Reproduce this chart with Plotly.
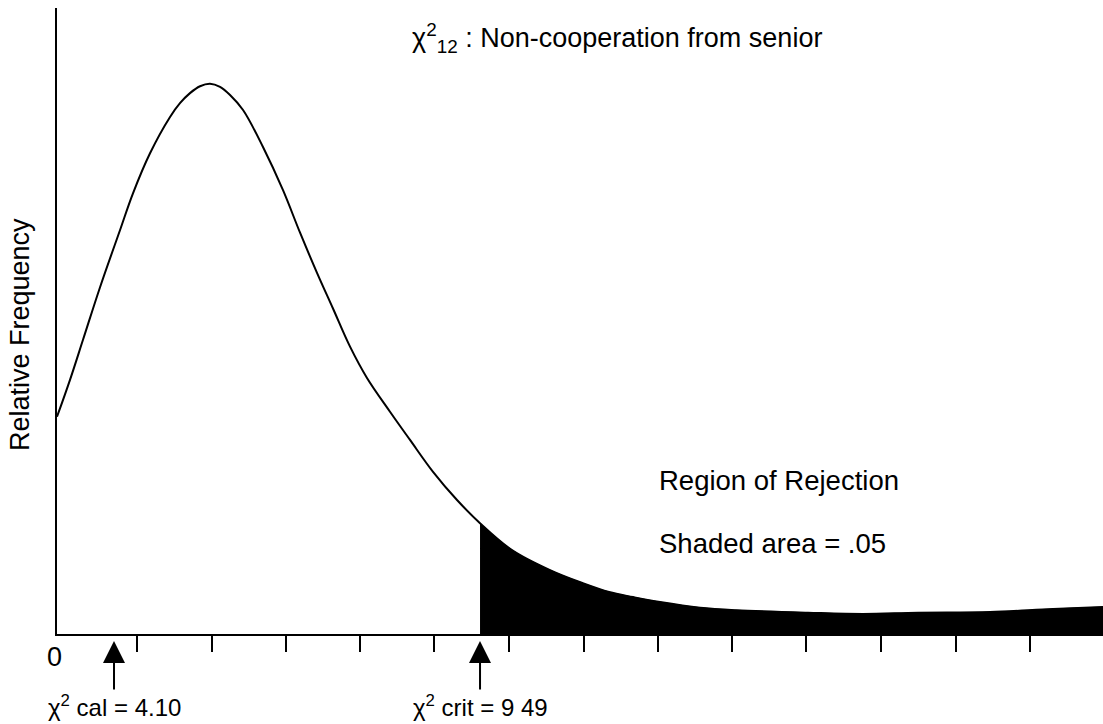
import plotly.graph_objects as go

# ---- data (schematic chi-square density) ----
curve_x = [0.0, 0.174, 0.348, 0.576, 0.843, 1.017, 1.245, 1.513, 1.646, 1.780,
           1.914, 2.048, 2.182, 2.316, 2.490, 2.757, 3.025, 3.253, 3.480, 3.694,
           3.922, 4.149, 4.457, 4.725, 5.033, 5.354, 5.662, 6.090, 6.599, 7.040,
           7.389, 7.710, 8.071, 8.607, 9.088, 10.052, 10.788, 11.524, 12.488,
           13.331, 14.0]
curve_y = [0.347, 0.406, 0.470, 0.554, 0.645, 0.704, 0.768, 0.826, 0.848, 0.864,
           0.875, 0.879, 0.874, 0.861, 0.837, 0.778, 0.709, 0.641, 0.577, 0.520,
           0.459, 0.409, 0.355, 0.310, 0.259, 0.214, 0.177, 0.134, 0.102, 0.081,
           0.067, 0.059, 0.051, 0.042, 0.038, 0.034, 0.032, 0.034, 0.035,
           0.040, 0.043]

crit_pos = 5.662          # position of chi2 crit on the schematic axis
cal_pos = 0.763           # position of chi2 cal on the schematic axis
tick_vals = [1.07, 2.07, 3.06, 4.06, 5.05, 6.05, 7.05, 8.04, 9.04, 10.03, 11.03, 12.03, 13.02]

title_text = "χ<sup>2</sup><sub>12</sub> : Non-cooperation from senior"
cal_label = "χ<sup>2</sup> cal = 4.10"
crit_label = "χ<sup>2</sup> crit = 9 49"
y_title = "Relative Frequency"
region_text = "Region of Rejection"
shaded_text = "Shaded area = .05"
origin_label = "0"

FONT = "Liberation Sans, Arial, sans-serif"

tail_x = [x for x in curve_x if x >= crit_pos]
tail_y = [y for x, y in zip(curve_x, curve_y) if x >= crit_pos]

fig = go.Figure()
fig.add_trace(go.Scatter(x=tail_x, y=tail_y, mode="lines", fill="tozeroy",
                         fillcolor="black",
                         line=dict(color="black", width=1, shape="spline", smoothing=1.0),
                         hoverinfo="skip", showlegend=False))
fig.add_trace(go.Scatter(x=curve_x, y=curve_y, mode="lines",
                         line=dict(color="black", width=2, shape="spline", smoothing=1.0),
                         showlegend=False))

fig.update_layout(
    width=1103, height=724,
    margin=dict(l=57, r=0, t=8, b=90),
    paper_bgcolor="white", plot_bgcolor="white",
    font=dict(family=FONT, color="black", size=27),
    showlegend=False,
    xaxis=dict(range=[0, 14], showgrid=False, zeroline=False, showline=True,
               linecolor="black", linewidth=2, ticks="outside", ticklen=16,
               tickwidth=2, tickcolor="black", tickvals=tick_vals,
               showticklabels=False, fixedrange=True),
    yaxis=dict(range=[0, 1], showgrid=False, zeroline=False, showline=True,
               linecolor="black", linewidth=2, ticks="", showticklabels=False,
               fixedrange=True),
)

fig.add_annotation(text=y_title, xref="paper", yref="paper", x=-0.036, y=0.478,
                   xanchor="center", yanchor="middle", textangle=-90,
                   showarrow=False, font=dict(size=27))
fig.add_annotation(text=title_text, xref="paper", yref="paper", x=0.733, y=0.952,
                   xanchor="right", yanchor="middle", showarrow=False,
                   font=dict(size=27))
fig.add_annotation(text=region_text, xref="paper", yref="paper", x=0.5736, y=0.246,
                   xanchor="left", yanchor="middle", showarrow=False, font=dict(size=27.5))
fig.add_annotation(text=shaded_text, xref="paper", yref="paper", x=0.5736, y=0.1438,
                   xanchor="left", yanchor="middle", showarrow=False, font=dict(size=27.5))
fig.add_annotation(text=origin_label, xref="paper", yref="paper", x=-0.002, y=-0.0367,
                   xanchor="center", yanchor="middle", showarrow=False, font=dict(size=27))

for pos, lab in [(cal_pos, cal_label), (crit_pos, crit_label)]:
    fig.add_annotation(text=lab, xref="x", yref="y", x=pos, y=0,
                       ax=0, ay=72, axref="pixel", ayref="pixel",
                       showarrow=True, arrowhead=2, arrowsize=2.2, arrowwidth=2,
                       arrowcolor="black", standoff=7, font=dict(size=24))

fig.write_html("out.html")
